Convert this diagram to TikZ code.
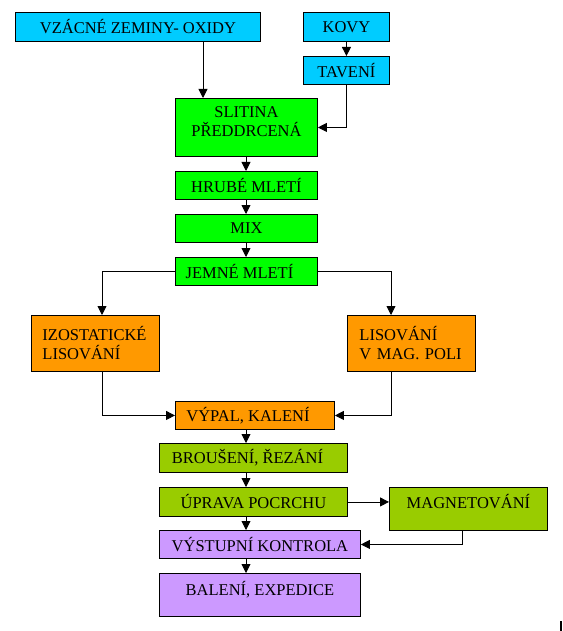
\documentclass[tikz,border=0pt]{standalone}
\usepackage{fontspec}
\setmainfont{Liberation Serif}
\usetikzlibrary{arrows.meta}
\definecolor{cyanb}{RGB}{0,204,255}
\definecolor{greenb}{RGB}{0,255,0}
\definecolor{orangeb}{RGB}{255,153,0}
\definecolor{oliveb}{RGB}{153,204,0}
\definecolor{purpleb}{RGB}{204,153,255}
\tikzset{
  box/.style={draw=black, line width=0.9pt, anchor=north west, inner sep=0pt,
    font=\fontsize{16.5}{19}\selectfont, align=center, text=black},
  leftbox/.style={box, align=left, inner xsep=11pt},
  conn/.style={draw=black, line width=0.9pt},
  arr/.style={conn, -{Triangle[length=9pt,width=9pt]}}
}
\begin{document}
\begin{tikzpicture}[x=1pt,y=-1pt]
\useasboundingbox (0,0) rectangle (562,631);
\fill[white] (0,0) rectangle (562,631);
% nodes
\node[box, fill=cyanb, minimum width=245, minimum height=29] (vz) at (15,12) {VZÁCNÉ ZEMINY- OXIDY};
\node[box, fill=cyanb, minimum width=86, minimum height=29] (kovy) at (303,12) {KOVY};
\node[box, fill=cyanb, minimum width=86, minimum height=28] (tav) at (303,56) {TAVENÍ};
\node[box, fill=greenb, minimum width=142, minimum height=58] (slit) at (175,98) {SLITINA\\PŘEDDRCENÁ\\[-13pt]\strut};
\node[box, fill=greenb, minimum width=142, minimum height=28] (hrube) at (175,171) {HRUBÉ MLETÍ};
\node[box, fill=greenb, minimum width=142, minimum height=28] (mix) at (175,214) {MIX};
\node[box, fill=greenb, minimum width=142, minimum height=28] (jemne) at (175,257) {JEMNÉ MLETÍ\hspace{14pt}};
\node[leftbox, fill=orangeb, text width=106, minimum height=56] (izo) at (31,315) {IZOSTATICKÉ\\LISOVÁNÍ};
\node[leftbox, fill=orangeb, text width=104, inner xsep=12pt, minimum height=56] (lis) at (347,315) {LISOVÁNÍ\\V MAG. POLI};
\node[box, fill=orangeb, minimum width=159, minimum height=28] (vypal) at (175,401) {VÝPAL, KALENÍ\hspace{14pt}};
\node[box, fill=oliveb, minimum width=188, minimum height=29] (brous) at (159,443) {BROUŠENÍ, ŘEZÁNÍ\hspace{12pt}};
\node[box, fill=oliveb, minimum width=188, minimum height=29] (uprava) at (159,487) {ÚPRAVA POCRCHU};
\node[box, fill=oliveb, minimum width=158, minimum height=43] (mag) at (389,487) {MAGNETOVÁNÍ\\[-9pt]\strut};
\node[box, fill=purpleb, minimum width=201, minimum height=28] (vyst) at (159,530) {VÝSTUPNÍ KONTROLA};
\node[box, fill=purpleb, minimum width=201, minimum height=43] (bal) at (159,573) {BALENÍ, EXPEDICE\\[-11pt]\strut};
% helper coordinates for connector x positions
\coordinate (xa) at (203,0);
\coordinate (xm) at (246,0);
\coordinate (xl) at (102,0);
\coordinate (xr) at (391,0);
\coordinate (xg) at (462,0);
% connectors
\draw[arr] (vz.south -| xa) -- (slit.north -| xa);
\draw[arr] (kovy.south) -- (tav.north);
\draw[arr] (tav.south) |- (slit.east);
\draw[arr] (slit.south -| xm) -- (hrube.north -| xm);
\draw[arr] (hrube.south -| xm) -- (mix.north -| xm);
\draw[arr] (mix.south -| xm) -- (jemne.north -| xm);
\draw[arr] (jemne.west) -| (izo.north -| xl);
\draw[arr] (jemne.east) -| (lis.north -| xr);
\draw[arr] (izo.south -| xl) |- (vypal.west);
\draw[arr] (lis.south -| xr) |- (vypal.east);
\draw[arr] (vypal.south -| xm) -- (brous.north -| xm);
\draw[arr] (brous.south -| xm) -- (uprava.north -| xm);
\draw[arr] (uprava.east) -- (mag.west |- uprava.east);
\draw[arr] (uprava.south -| xm) -- (vyst.north -| xm);
\draw[arr] (mag.south -| xg) |- (vyst.east);
\draw[arr] (vyst.south -| xm) -- (bal.north -| xm);
% stray mark
\coordinate (m1) at (561,621);
\coordinate (m2) at (561,631);
\draw[line width=1.2pt] (m1) -- (m2);
\end{tikzpicture}
\end{document}
